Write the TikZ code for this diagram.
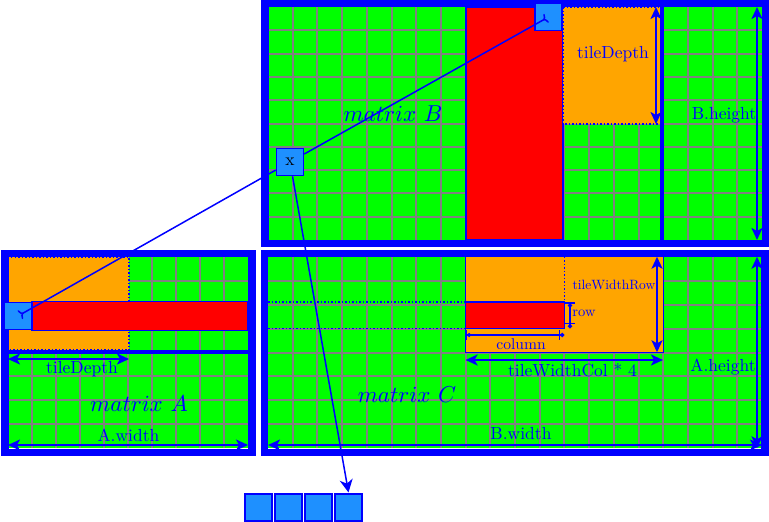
\documentclass[tikz,border=0pt]{standalone}
\usepackage{amsmath}
\usepackage{amssymb}
\usetikzlibrary{arrows.meta,positioning}
\definecolor{dodger}{HTML}{1E90FF}
\definecolor{tileorange}{HTML}{FFA500}

\tikzset{
  gridline/.style={draw=gray,line width=2pt},
  frame/.style={draw=blue,line width=7.5pt},
  heavy/.style={draw=blue,line width=4pt},
  tilebox/.style={fill=tileorange,draw=blue,dotted,line width=1.5pt},
  rowbox/.style={fill=red,draw=blue,line width=1.5pt},
  cellbox/.style={fill=dodger,draw=blue,line width=1.5pt,minimum size=27pt,inner sep=0pt},
  dimarrow/.style={blue,line width=2pt,
    {Stealth[length=12pt,width=11pt,inset=3pt]}-{Stealth[length=12pt,width=11pt,inset=3pt]}},
  dimdot/.style={blue,line width=1.5pt,
    {Bar[width=10pt]Circle[length=4pt]}-{Bar[width=10pt]Circle[length=4pt]}},
  link/.style={blue,line width=1.5pt},
  lbl/.style={text=blue,inner sep=0pt,scale=1.75},
  namelbl/.style={text=blue,inner sep=0pt,scale=2.3},
}

\begin{document}
\begin{tikzpicture}[x=1pt,y=-1pt]
    \useasboundingbox (0,0) rectangle (769,522);

    % 矩阵 B
    \fill[green] (268,7) rectangle (762,240);
    \foreach \i in {1,...,19} \draw[gridline] ({268+24.7*\i},7) -- ++(0,233);
    \foreach \j in {1,...,9} \draw[gridline] (268,{7+23.3*\j}) -- ++(494,0);
    \draw[rowbox] (466,7) rectangle (563,240);
    \draw[tilebox] (563,7) rectangle (662,124);
    \draw[frame] (265,3.5) rectangle (765.5,243.5);
    \draw[heavy] (662,7) -- (662,240);

    % 矩阵 A
    \fill[green] (8,257) rectangle (248,448);
    \foreach \i in {1,...,9} \draw[gridline] ({8+24*\i},257) -- ++(0,191);
    \foreach \j in {1,...,7} \draw[gridline] (8,{257+23.875*\j}) -- ++(240,0);
    \draw[tilebox] (8,257) rectangle (129,350);
    \draw[rowbox] (32,301.5) rectangle (248,330.5);
    \draw[frame] (5,253.5) rectangle (252,452.5);
    \draw[heavy] (5,352) -- (252,352);

    % 矩阵 C
    \fill[green] (268,256.7) rectangle (762,448.3);
    \foreach \i in {1,...,19} \draw[gridline] ({268+24.7*\i},256.7) -- ++(0,191.6);
    \foreach \j in {1,...,7} \draw[gridline] (268,{256.7+23.95*\j}) -- ++(494,0);
    \draw[fill=tileorange,draw=blue,line width=1pt] (465.6,256.7) rectangle (663,352.3);
    \draw[rowbox] (465.6,302) rectangle (564.3,328.3);
    \draw[blue,dotted,line width=1.5pt] (268,302) -- (465.6,302);
    \draw[blue,dotted,line width=1.5pt] (268,328.3) -- (465.6,328.3);
    \draw[blue,dotted,line width=1.5pt] (564.3,256.7) -- (564.3,302);
    \draw[frame] (264.5,253.5) rectangle (765,452.5);

    % 尺寸
    \coordinate (B1) at (656,7);
    \coordinate (B2) at (656,124);
    \coordinate (B3) at (757,7);
    \coordinate (B4) at (757,240);
    \coordinate (A1) at (8,359);
    \coordinate (A2) at (129,359);
    \coordinate (A3) at (8,445);
    \coordinate (A4) at (248,445);
    \coordinate (C1) at (657,256.7);
    \coordinate (C2) at (657,352.3);
    \coordinate (C3) at (465.6,360);
    \coordinate (C4) at (663,360);
    \coordinate (C5) at (757,256.7);
    \coordinate (C6) at (757,448.3);
    \coordinate (C7) at (268,445);
    \coordinate (C8) at (762,445);
    \coordinate (R1) at (570,302);
    \coordinate (R2) at (570,328.3);
    \coordinate (K1) at (465.6,335);
    \coordinate (K2) at (564.3,335);

    \draw[dimarrow] (B1) -- (B2);
    \draw[dimarrow] (B3) -- (B4);
    \draw[dimarrow] (A1) -- (A2);
    \draw[dimarrow] (A3) -- (A4);
    \draw[dimarrow] (C1) -- (C2);
    \draw[dimarrow] (C3) -- (C4);
    \draw[dimarrow] (C5) -- (C6);
    \draw[dimarrow] (C7) -- (C8);
    \draw[dimdot] (R1) -- (R2);
    \draw[dimdot] (K1) -- (K2);

    % 标注
    \node[namelbl] (nameB) at (393,114) {$matrix\ B$};
    \node[namelbl] (nameA) at (139,404) {$matrix\ A$};
    \node[namelbl] (nameC) at (407,395) {$matrix\ C$};
    \node[lbl] (depthB) at (613,54) {tileDepth};
    \node[lbl] (heightB) at (724,115) {B.height};
    \node[lbl] (depthA) at (82,369) {tileDepth};
    \node[lbl] (widthA) at (128.5,435) {A.width};
    \node[lbl] (widthC) at (521,434) {B.width};
    \node[lbl] (heightC) at (723,367.5) {A.height};
    \node[lbl] (colC) at (572.5,370) {tileWidthCol * 4};
    \node[lbl,scale=0.77] (rowC) at (614,285) {tileWidthRow};
    \node[lbl,scale=0.83] (rowlbl) at (584,313) {row};
    \node[lbl,scale=0.89] (collbl) at (521,344.5) {column};

    % 元素
    \node[cellbox] (tb) at (548.5,17) {};
    \node[cellbox] (ta) at (18,316) {};
    \node[cellbox] (xb) at (290,162) {\scalebox{1.75}{x}};
    \node[cellbox,line width=2pt] (o1) at (258.5,507) {};
    \node[cellbox,line width=2pt,right=1pt of o1] (o2) {};
    \node[cellbox,line width=2pt,right=1pt of o2] (o3) {};
    \node[cellbox,line width=2pt,right=1pt of o3] (o4) {};

    % 画线
    \draw[link,-{To[reversed,length=4pt,width=10pt]},shorten >=2pt] (xb) -- (tb.center);
    \draw[link,-{To[reversed,length=4pt,width=10pt]},shorten >=2pt] (xb) -- (ta.center);
    \draw[link,-{Stealth[length=13pt,width=13pt,inset=4pt]}] (xb) -- (o4.north);
\end{tikzpicture}
\end{document}
